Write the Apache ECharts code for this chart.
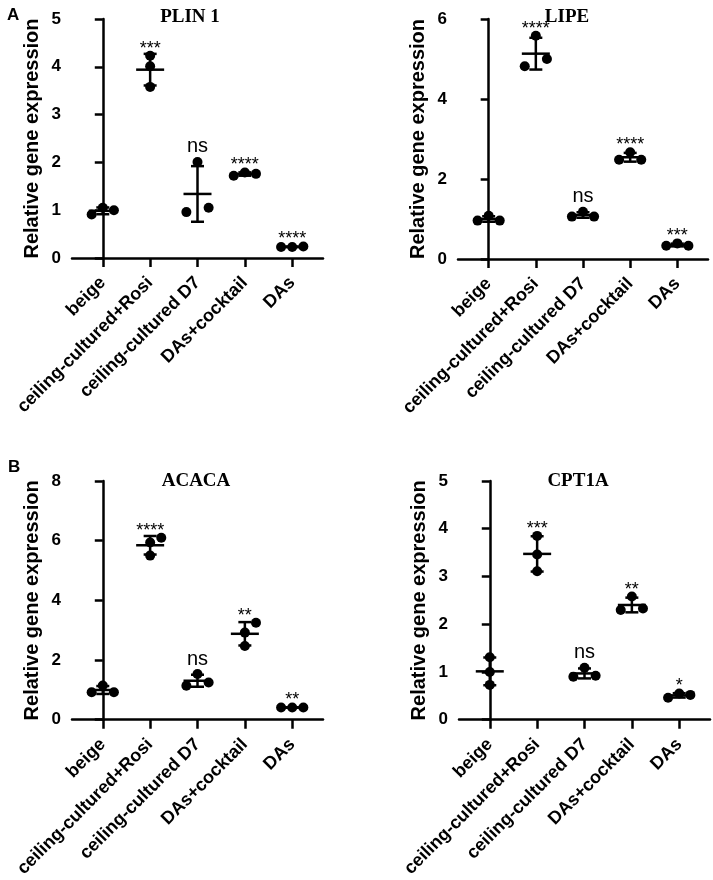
<!DOCTYPE html>
<html>
<head>
<meta charset="utf-8">
<script src="https://cdn.jsdelivr.net/npm/echarts@6/dist/echarts.min.js"></script>
<style>
  html, body { margin: 0; padding: 0; background: #fff; }
  #chart { width: 713px; height: 880px; }
</style>
</head>
<body>
<div id="chart"></div>
<script>
const groups = ['beige', 'ceiling-cultured+Rosi', 'ceiling-cultured D7', 'DAs+cocktail', 'DAs'];
const genes = ['PLIN 1', 'LIPE', 'ACACA', 'CPT1A'];

// three replicates per group
const plin1Values = [[0.91, 1.05, 1.00], [4.23, 4.01, 3.58], [0.96, 2.01, 1.05], [1.72, 1.79, 1.76], [0.23, 0.23, 0.24]];
const lipeValues = [[0.96, 1.08, 0.96], [4.82, 5.58, 5.00], [1.06, 1.18, 1.06], [2.48, 2.67, 2.48], [0.33, 0.39, 0.33]];
const acacaValues = [[0.92, 1.15, 0.92], [5.50, 5.94, 6.10], [1.14, 1.53, 1.25], [2.47, 2.92, 3.25], [0.41, 0.41, 0.41]];
const cpt1aValues = [[1.31, 1.00, 0.73], [3.85, 3.46, 3.11], [0.90, 1.09, 0.92], [2.30, 2.58, 2.33], [0.46, 0.55, 0.52]];

// where each dot sits inside its column: -1 left, 0 middle, 1 right
const plin1Spread = [[-1, 0, 1], [0, 0, 0], [-1, 0, 1], [-1, 0, 1], [-1, 0, 1]];
const lipeSpread = [[-1, 0, 1], [-1, 0, 1], [-1, 0, 1], [-1, 0, 1], [-1, 0, 1]];
const acacaSpread = [[-1, 0, 1], [0, 0, 1], [-1, 0, 1], [0, 0, 1], [-1, 0, 1]];
const cpt1aSpread = [[0, 0, 0], [0, 0, 0], [-1, 0, 1], [-1, 0, 1], [-1, 0, 1]];

const plin1Stars = ['', '***', 'ns', '****', '****'];
const lipeStars = ['', '****', 'ns', '****', '***'];
const acacaStars = ['', '****', 'ns', '**', '**'];
const cpt1aStars = ['', '***', 'ns', '**', '*'];

const yMax = [5, 6, 8, 5];
const yStep = [1, 2, 2, 1];

const allValues = [plin1Values, lipeValues, acacaValues, cpt1aValues];
const allSpread = [plin1Spread, lipeSpread, acacaSpread, cpt1aSpread];
const allStars = [plin1Stars, lipeStars, acacaStars, cpt1aStars];

const SANS = 'Liberation Sans';
const grids = [
    { left: 72, top: 19, width: 251, height: 239 },
    { left: 458, top: 19, width: 250, height: 240 },
    { left: 72, top: 481, width: 251, height: 240 },
    { left: 459, top: 481, width: 251, height: 241 }
];
const titlePos = [[185, 3], [562, 3], [191, 467], [573, 467]];

function meanSd(arr) {
    const m = arr.reduce((a, b) => a + b, 0) / arr.length;
    const v = arr.reduce((a, b) => a + (b - m) * (b - m), 0) / (arr.length - 1);
    return [m, Math.sqrt(v)];
}

function barRenderer(stars) {
    return function (params, api) {
        const x = api.value(0), mean = api.value(1), sd = api.value(2), top = api.value(3);
        const c = api.coord([x, mean]);
        const hi = api.coord([x, mean + sd]);
        const lo = api.coord([x, mean - sd]);
        const pt = api.coord([x, top]);
        const st = { stroke: '#000', lineWidth: 2.5 };
        const children = [
            { type: 'line', shape: { x1: c[0] - 14, y1: c[1], x2: c[0] + 14, y2: c[1] }, style: st },
            { type: 'line', shape: { x1: hi[0], y1: hi[1], x2: lo[0], y2: lo[1] }, style: st },
            { type: 'line', shape: { x1: hi[0] - 6.5, y1: hi[1], x2: hi[0] + 6.5, y2: hi[1] }, style: st },
            { type: 'line', shape: { x1: lo[0] - 6.5, y1: lo[1], x2: lo[0] + 6.5, y2: lo[1] }, style: st }
        ];
        const label = stars[params.dataIndex];
        if (label) {
            const edge = Math.min(pt[1] - 5, hi[1] - 1.5);
            const isNs = label === 'ns';
            children.push({
                type: 'text',
                style: {
                    text: label,
                    x: c[0],
                    y: isNs ? edge : edge + 7,
                    align: 'center',
                    verticalAlign: 'bottom',
                    font: (isNs ? '20px ' : '18px ') + SANS,
                    fill: '#000'
                }
            });
        }
        return { type: 'group', children: children };
    };
}

const option = {
    backgroundColor: '#fff',
    animation: false,
    title: [],
    grid: grids,
    xAxis: [],
    yAxis: [],
    series: []
};

option.title.push({ text: 'A', left: 2, top: 2, textStyle: { fontFamily: SANS, fontWeight: 'bold', fontSize: 17, color: '#000' } });
option.title.push({ text: 'B', left: 3, top: 454, textStyle: { fontFamily: SANS, fontWeight: 'bold', fontSize: 17, color: '#000' } });

genes.forEach((gene, g) => {
    option.title.push({
        text: gene,
        left: titlePos[g][0],
        top: titlePos[g][1],
        textAlign: 'center',
        textStyle: { fontFamily: 'Liberation Serif', fontWeight: 'bold', fontSize: 19, color: '#000' }
    });
    option.xAxis.push({
        type: 'value',
        gridIndex: g,
        min: -0.65,
        max: 4.65,
        splitLine: { show: false },
        axisLine: { onZero: false, lineStyle: { color: '#000', width: 2.5 } },
        axisTick: { customValues: [0, 1, 2, 3, 4], length: 9, lineStyle: { color: '#000', width: 2.5 } },
        axisLabel: {
            customValues: [0, 1, 2, 3, 4],
            rotate: 45,
            margin: 22,
            formatter: v => groups[Math.round(v)],
            fontFamily: SANS, fontWeight: 'bold', fontSize: 18, color: '#000'
        }
    });
    option.yAxis.push({
        type: 'value',
        gridIndex: g,
        min: 0,
        max: yMax[g],
        interval: yStep[g],
        name: 'Relative gene expression',
        nameLocation: 'middle',
        nameGap: 30,
        nameTextStyle: { fontFamily: SANS, fontWeight: 'bold', fontSize: 20, color: '#000' },
        splitLine: { show: false },
        axisLine: { show: true, lineStyle: { color: '#000', width: 2.5 } },
        axisTick: { show: true, length: 8, lineStyle: { color: '#000', width: 2.5 } },
        axisLabel: { margin: 11, fontFamily: SANS, fontWeight: 'bold', fontSize: 17, color: '#000' }
    });

    const dots = [];
    const bars = [];
    allValues[g].forEach((reps, i) => {
        reps.forEach((v, k) => dots.push([i + allSpread[g][i][k] * 0.235, v]));
        const ms = meanSd(reps);
        bars.push([i, ms[0], ms[1], Math.max.apply(null, reps)]);
    });
    option.series.push({
        type: 'scatter',
        xAxisIndex: g,
        yAxisIndex: g,
        symbol: 'circle',
        symbolSize: 10,
        itemStyle: { color: '#000', opacity: 1 },
        data: dots,
        z: 2
    });
    option.series.push({
        type: 'custom',
        xAxisIndex: g,
        yAxisIndex: g,
        renderItem: barRenderer(allStars[g]),
        data: bars,
        z: 3
    });
});

const chart = echarts.init(document.getElementById('chart'));
chart.setOption(option);
</script>
</body>
</html>
